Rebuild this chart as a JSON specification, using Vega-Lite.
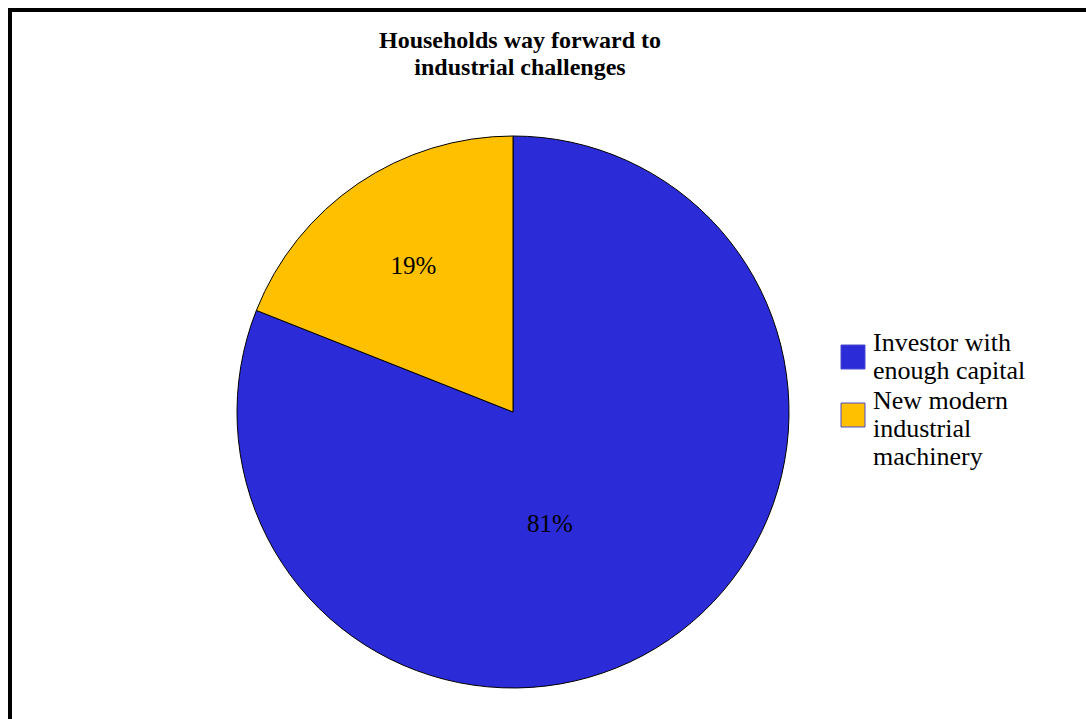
{
  "$schema": "https://vega.github.io/schema/vega-lite/v6.json",
  "autosize": {"type": "none"},
  "padding": {"left": 10, "top": 10, "right": 0, "bottom": 0},
  "width": 1090,
  "height": 804,
  "background": "white",
  "config": {
    "view": {"stroke": "black", "strokeWidth": 4},
    "font": "Liberation Serif"
  },
  "title": {
    "text": ["Households way forward to", "industrial challenges"],
    "font": "Liberation Serif",
    "fontSize": 24,
    "fontWeight": "bold",
    "lineHeight": 27,
    "color": "black",
    "anchor": "middle",
    "offset": -70,
    "dx": -35
  },
  "data": {
    "values": [
      {"category": "Investor with enough capital", "share": 0.81},
      {"category": "New modern industrial machinery", "share": 0.19}
    ]
  },
  "encoding": {
    "theta": {"field": "share", "type": "quantitative", "stack": true},
    "order": {"field": "category", "type": "nominal", "sort": "ascending"},
    "x": {"datum": 0.46147, "type": "quantitative", "scale": {"domain": [0, 1]}, "axis": null}
  },
  "layer": [
    {
      "mark": {"type": "arc", "outerRadius": 276, "stroke": "black", "strokeWidth": 1},
      "encoding": {
        "color": {
          "field": "category",
          "type": "nominal",
          "scale": {"domain": ["Investor with enough capital", "New modern industrial machinery"], "range": ["#2b2bd7", "#ffc000"]},
          "legend": {
            "title": null,
            "orient": "none",
            "legendX": 830,
            "legendY": 334,
            "symbolType": "square",
            "symbolSize": 576,
            "symbolStrokeColor": "#4a4ad0",
            "symbolStrokeWidth": 1,
            "labelFont": "Liberation Serif",
            "labelFontSize": 26,
            "labelColor": "black",
            "labelLineHeight": 25.5,
            "labelBaseline": "line-bottom",
            "labelOffset": 7,
            "labelLimit": 300,
            "rowPadding": 4,
            "labelExpr": "datum.label == 'Investor with enough capital' ? ['Investor with', 'enough capital'] : ['New modern', 'industrial', 'machinery']"
          }
        }
      }
    },
    {
      "mark": {"type": "text", "radius": 177, "font": "Liberation Serif", "fontSize": 25, "color": "black", "align": "center", "baseline": "middle"},
      "encoding": {
        "text": {"condition": {"test": "datum.share < 0.5", "field": "share", "type": "quantitative", "format": ".0%"}, "value": ""}
      }
    },
    {
      "mark": {"type": "text", "radius": 119, "dx": -30, "dy": 14, "font": "Liberation Serif", "fontSize": 25, "color": "black", "align": "center", "baseline": "middle"},
      "encoding": {
        "text": {"condition": {"test": "datum.share > 0.5", "field": "share", "type": "quantitative", "format": ".0%"}, "value": ""}
      }
    }
  ]
}
